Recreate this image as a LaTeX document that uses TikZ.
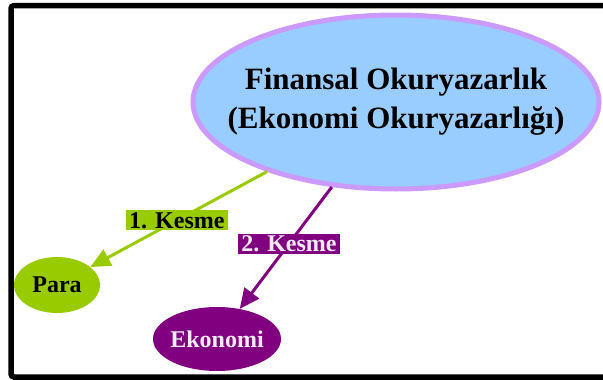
\documentclass[tikz,border=0pt]{standalone}
\usepackage{fontspec}
\setmainfont{Liberation Serif}
\usetikzlibrary{shapes.geometric, arrows.meta}
\definecolor{finblue}{HTML}{99CCFF}
\definecolor{finrim}{HTML}{CC99FF}
\definecolor{leaf}{HTML}{99CC00}
\definecolor{plum}{HTML}{800080}
\definecolor{pale}{HTML}{F2EAF6}

\begin{document}
\begin{tikzpicture}[x=1pt, y=-1pt,
  bubble/.style={ellipse, inner sep=0pt, font=\fontsize{24}{28}\selectfont\bfseries},
  cut/.style={inner xsep=3pt, inner ysep=2pt, font=\fontsize{24}{26}\selectfont\bfseries},
  tip/.style={-{Triangle[length=20pt, width=18pt]}, line width=3pt}]
\useasboundingbox (0,0) rectangle (603,380);
\draw [line width=5.5pt, rounded corners=3pt] (603,5.5) -- (11,5.5) -- (11,377) -- (603,377);

\node (fin) at (396,102) [ellipse, minimum width=406pt, minimum height=174pt, draw=finrim, line width=5pt, fill=finblue] {};
\node (fintext) at (fin) [align=center, font=\fontsize{31}{39}\selectfont\bfseries] {Finansal Okuryazarlık\\(Ekonomi Okuryazarlığı)};
\node (para) at (57,285) [bubble, minimum width=86pt, minimum height=56pt, fill=leaf, text=black] {Para};
\node (eko) at (217,339) [bubble, inner xsep=-2pt, minimum width=128pt, minimum height=64pt, fill=plum, text=pale] {Ekonomi};

\draw (fin) edge [tip, leaf] node [cut, pos=0.51, fill=leaf, text=black] {1. Kesme} (para);
\draw (fin) edge [tip, plum] node [cut, pos=0.465, fill=plum, text=pale] {2. Kesme} (eko);
\end{tikzpicture}
\end{document}
